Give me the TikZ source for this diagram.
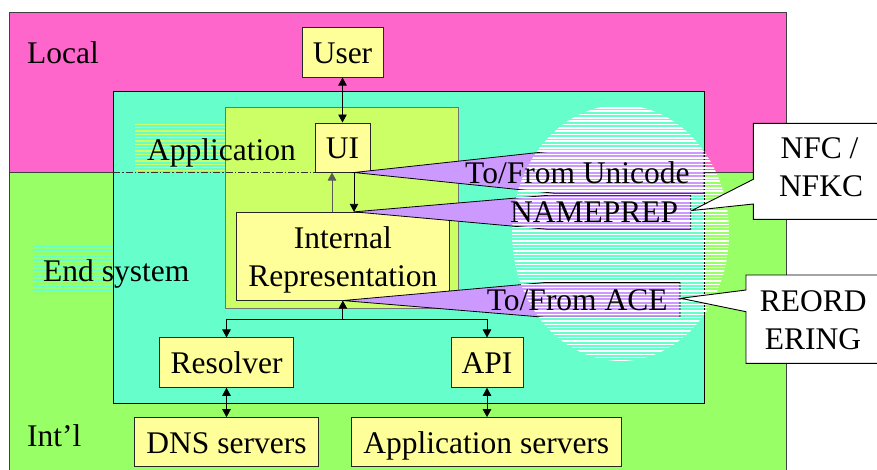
\documentclass[tikz,border=0pt]{standalone}
\usepackage{fontspec}
\setmainfont{Liberation Serif}
\usetikzlibrary{arrows.meta,calc}
\definecolor{localpink}{HTML}{FF66CC}
\definecolor{intlgreen}{HTML}{99FF66}
\definecolor{endteal}{HTML}{66FFCC}
\definecolor{applime}{HTML}{CCFF66}
\definecolor{boxyellow}{HTML}{FFFF99}
\definecolor{wedgepurple}{HTML}{CC99FF}
\begin{document}
\begin{tikzpicture}[x=1pt,y=-1pt,
  font=\fontsize{31.5}{38}\selectfont,
  region/.style={draw=black!75, line width=0.9pt, inner sep=0pt, anchor=north west},
  box/.style={draw=black!85, fill=boxyellow, line width=1pt, inner sep=0pt,
    text height=22pt, text depth=0pt},
  wedge/.style={draw=black, fill=wedgepurple, line width=0.8pt, line join=miter},
  note/.style={draw=black, fill=white, line width=0.9pt, line join=miter},
  lbl/.style={inner sep=0pt, anchor=base west},
  ctr/.style={inner sep=0pt, anchor=base},
  both/.style={line width=0.8pt, {Triangle[length=8pt,width=8.5pt]}-{Triangle[length=8pt,width=8.5pt]}},
  onto/.style={line width=0.8pt, -{Triangle[length=8pt,width=8.5pt]}},
  stripe/.style={line width=1.5pt}
]
\useasboundingbox (0,0) rectangle (877,469);

% --- nested scopes: local, international, end system, application
\node[region, fill=localpink, minimum width=776.7pt, minimum height=160.6pt] (local) at (9.3,11.7) {};
\node[region, fill=intlgreen, minimum width=776.7pt, minimum height=300pt] (intl) at (9.3,172.3) {};
\node[region, draw=black, fill=endteal, minimum width=590.4pt, minimum height=312pt] (endsys) at (113.3,91.3) {};
\node[region, draw=black!55, fill=applime, minimum width=232.7pt, minimum height=200.4pt] (app) at (225,107.3) {};

% striped label backgrounds
\begin{scope}
  \clip (135,123.3) rectangle (225,170.7);
  \foreach \k in {0,...,14}
    \draw[applime, stripe] (135,{124.3+3.33*\k}) -- (225,{124.3+3.33*\k});
\end{scope}
\begin{scope}
  \clip (33.3,245.7) rectangle (113.3,295.7);
  \foreach \k in {0,...,15}
    \draw[endteal, stripe] (33.3,{246.7+3.33*\k}) -- (113.3,{246.7+3.33*\k});
\end{scope}

% scope labels
\node[lbl] (tLocal) at (27,63) {Local};
\node[lbl] (tIntl) at (27,446) {Int’l};
\node[lbl] (tApp) at (147,160) {Application};
\node[lbl] (tEnd) at (43,281.7) {End system};

% --- components
\node[box, minimum width=81pt, minimum height=50pt] (user) at (342.5,52) {User};
\node[box, minimum width=55pt, minimum height=49pt] (ui) at (342.5,147.5) {UI};
\node[box, minimum width=212.3pt, minimum height=87.7pt] (ir) at (342.85,256.2) {};
\node[ctr] (tIrA) at (342.85,248) {Internal};
\node[ctr] (tIrB) at (342.85,286.7) {Representation};
\node[box, minimum width=134.2pt, minimum height=49.3pt] (resolver) at (226.5,362.6) {Resolver};
\node[box, minimum width=72pt, minimum height=49.3pt] (api) at (487,362.6) {API};
\node[box, minimum width=183.3pt, minimum height=49.3pt] (dns) at (226.5,442.3) {DNS servers};
\node[box, minimum width=269.5pt, minimum height=49.3pt] (appsrv) at (486.3,442.3) {Application servers};

% local / international boundary through the end system
\draw[black!80, line width=0.8pt, dash pattern=on 7pt off 2pt on 1.5pt off 2pt]
  (endsys.west |- ui.south) -- (ui.south west);

% --- connectors
\coordinate (upx) at (332,0);
\coordinate (dnx) at (354,0);
\coordinate (busy) at (0,319);
\draw[both] (user.south) -- (ui.north);
\draw[onto, draw=black!65] (ir.north -| upx) -- (ui.south -| upx);
\draw[onto] (ui.south -| dnx) -- (ir.north -| dnx);
\draw[onto] (ir.south |- busy) -- (ir.south);
\draw[line width=0.8pt] (resolver.north |- busy) -- (api.north |- busy);
\draw[onto] (resolver.north |- busy) -- (resolver.north);
\draw[onto] (api.north |- busy) -- (api.north);
\draw[both] (resolver.south) -- (dns.north);
\draw[both] (api.south) -- (api.south |- appsrv.north);

% --- conversion callouts
\coordinate (tipU) at ($(ui.south -| dnx)$);
\coordinate (tipN) at ($(ir.north -| dnx)$);
\coordinate (tipA) at (ir.south);
\draw[wedge] (tipA) -- (545,282.5) -- (680,282.5) -- (680,317.3) -- (545,317.3) -- cycle;
\draw[wedge] (tipN) -- (548,195.3) -- (690.7,195.3) -- (690.7,229.3) -- (548,229.3) -- cycle;
\draw[wedge] (tipU) -- (555,150.7) -- (704,150.7) -- (704,193.3) -- (555,193.3) -- cycle;

% striped zone of the conversion steps
\begin{scope}
  \clip (620.5,233) ellipse [x radius=108.5pt, y radius=128pt];
  \foreach \k in {0,...,78}
    \draw[white, stripe] (505,{104.5+3.33*\k}) -- (735,{104.5+3.33*\k});
\end{scope}

% callout texts
\node[lbl] (tUni) at (465,183.3) {To/From Unicode};
\node[lbl] (tNp) at (510,222.7) {NAMEPREP};
\node[lbl] (tAce) at (486.7,310) {To/From ACE};

% --- side notes
\draw[note] (753.3,123.3) -- (882,123.3) -- (882,219.3) -- (753.3,219.3) -- (753.3,204)
  -- (692,210.5) -- (753.3,179.3) -- cycle;
\node[ctr] (tNfcA) at (819.5,158.3) {NFC /};
\node[ctr] (tNfcB) at (821,196.7) {NFKC};
\draw[note] (746,275) -- (882,275) -- (882,363.3) -- (746,363.3) -- (746,311.7)
  -- (680.7,298.3) -- (746,290) -- cycle;
\node[ctr] (tReA) at (813.3,311.7) {REORD};
\node[ctr] (tReB) at (812.9,349.3) {ERING};
\end{tikzpicture}
\end{document}
